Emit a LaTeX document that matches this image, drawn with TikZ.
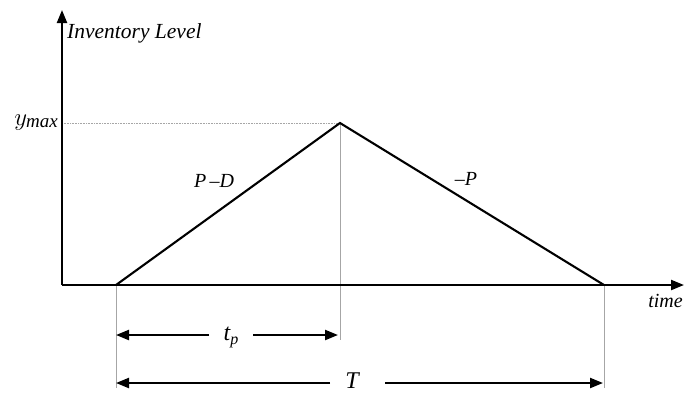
\documentclass[tikz,border=0pt]{standalone}
\usepackage{fontspec}
\setmainfont{Liberation Serif}
\usetikzlibrary{arrows.meta}
\begin{document}
\begin{tikzpicture}[x=1pt,y=-1pt,
  axis/.style={line width=2.2pt,-{Triangle[length=13pt,width=10pt]}},
  curve/.style={line width=2.1pt},
  guide/.style={gray!70,line width=0.5pt},
  dotguide/.style={gray!70,line width=0.6pt,densely dotted},
  dim/.style={line width=2.2pt,-{Triangle[length=13pt,width=10pt]}},
  lbl/.style={font=\itshape\fontsize{20}{20}\selectfont,inner sep=0pt}]
\useasboundingbox (0,0) rectangle (684,394);
% key points
\coordinate (O) at (62,285);
\coordinate (ytop) at (62,10);
\coordinate (xend) at (684,285);
\coordinate (A) at (116,285);
\coordinate (B) at (340,123);
\coordinate (C) at (604,285);
\coordinate (Yax) at (62,123);
\coordinate (Bbot) at (340,340);
\coordinate (Abot) at (116,388);
\coordinate (Cbot) at (604,388);
% guides
\draw[dotguide] (Yax) -- (B);
\draw[guide] (B) -- (Bbot);
\draw[guide] (A) -- (Abot);
\draw[guide] (C) -- (Cbot);
% axes
\draw[axis] (O) -- (ytop);
\draw[axis] (O) -- (xend);
% inventory curve
\draw[curve,line join=miter] (A) -- (B) -- (C);
% labels
\node[lbl,anchor=west,font=\itshape\fontsize{21.5}{21.5}\selectfont] (inv) at (67,33) {Inventory Level};
\node[lbl,anchor=east] (ymax) at (58,123) {\fontsize{30}{30}\selectfont $y$\kern-1pt\raisebox{-2pt}{\fontsize{19}{19}\selectfont\itshape max}};
\node[lbl] (pd) at (214,181) {P\,–D};
\node[lbl] (mp) at (466,179) {–P};
\node[lbl,anchor=east] (time) at (683,301) {time};
% dimension arrows
\node[lbl,font=\itshape\fontsize{24}{24}\selectfont] (tp) at (231,337) {t\raisebox{-4pt}{\fontsize{16}{16}\selectfont\itshape p}};
\coordinate (tpl) at (116,335);
\coordinate (tpr) at (338,335);
\draw[dim] (209,335) coordinate (tpa) -- (tpl);
\draw[dim] (253,335) coordinate (tpb) -- (tpr);
\node[lbl,font=\itshape\fontsize{24}{24}\selectfont] (T) at (352,381) {T};
\coordinate (Tl) at (116,383);
\coordinate (Tr) at (603,383);
\draw[dim] (330,383) coordinate (Ta) -- (Tl);
\draw[dim] (385,383) coordinate (Tb) -- (Tr);
\end{tikzpicture}
\end{document}
